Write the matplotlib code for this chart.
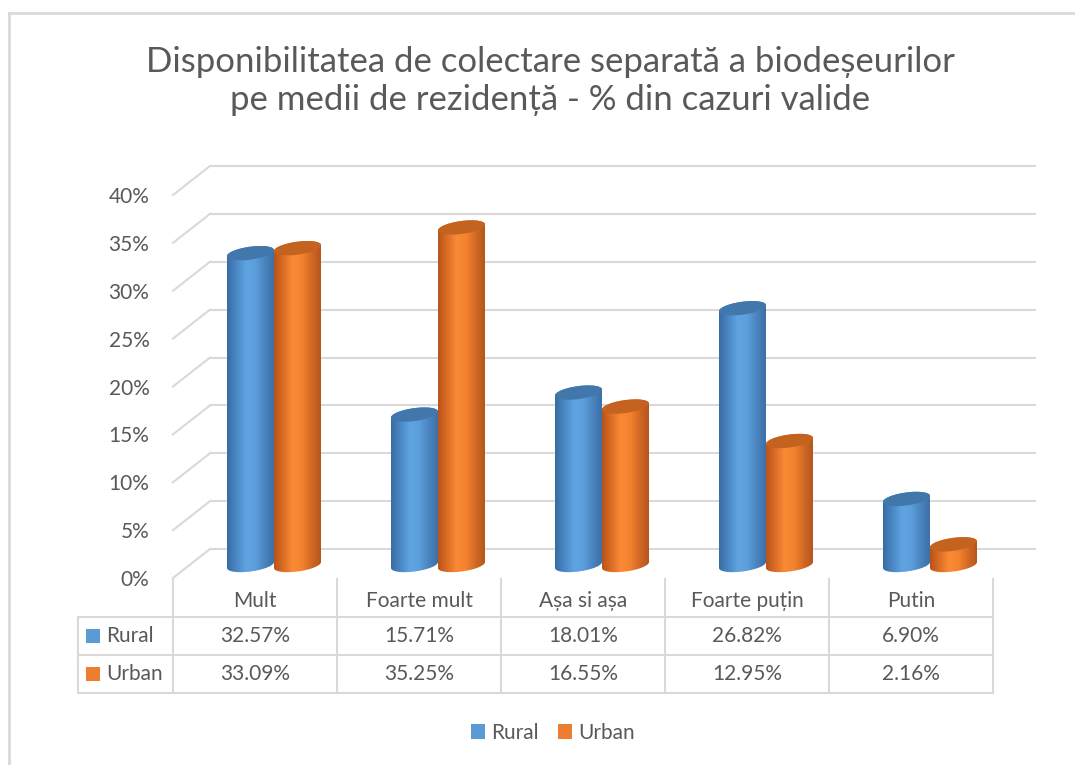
import numpy as np
import matplotlib
matplotlib.use("Agg")
import matplotlib.pyplot as plt
import matplotlib.transforms as mtransforms
from matplotlib.colors import LinearSegmentedColormap
from matplotlib.patches import PathPatch, Patch, Rectangle
from matplotlib.path import Path
from matplotlib.lines import Line2D

plt.rcParams['font.family'] = ['Lato', 'DejaVu Sans']

title = "Disponibilitatea de colectare separată a biodeșeurilor\npe medii de rezidență - % din cazuri valide"
categories = ["Mult", "Foarte mult", "Așa si așa", "Foarte puțin", "Putin"]
series = ["Rural", "Urban"]
rural = [32.57, 15.71, 18.01, 26.82, 6.90]
urban = [33.09, 35.25, 16.55, 12.95, 2.16]
yticks = [0, 5, 10, 15, 20, 25, 30, 35, 40]

TXT = "#595959"
GRID = "#d9d9d9"
body_stops = {
    "Rural": ["#3a6ca2", "#4a87c6", "#5fa4e1", "#5c9fdc", "#4b85c0", "#3d70a6"],
    "Urban": ["#b8531a", "#dc6d26", "#fb8a37", "#f4832f", "#d26924", "#b5551c"],
}
top_col = {"Rural": "#4277ab", "Urban": "#c4621f"}
legend_col = {"Rural": "#5b9bd5", "Urban": "#ed7d31"}

W, H = 1075, 765
fig = plt.figure(figsize=(W / 100, H / 100), dpi=100)

# front plane: category columns 173..993 px, 0% at y=578, 9.575 px per %
px_cat = 164.0
px_pct = 9.575
ymax = 45
ax = fig.add_axes([173 / W, (H - 578) / H, 820 / W, ymax * px_pct / H])
ax.set_xlim(-0.5, 4.5)
ax.set_ylim(0, ymax)
for s in ax.spines.values():
    s.set_visible(False)
ax.set_xticks([])
ax.set_yticks(yticks)
ax.set_yticklabels([f"{t}%" for t in yticks], color=TXT, fontsize=15)
ax.tick_params(axis="y", length=0, pad=17)

# back wall gridlines (perspective shift) and side diagonals
dxb, dyb = 37 / px_cat, 29 / px_pct
for t in yticks:
    ax.plot([-0.5, -0.5 + dxb], [t, t + dyb], color=GRID, lw=1.5, zorder=1, clip_on=False)
    ax.plot([-0.5 + dxb, 4.53 + dxb], [t + dyb, t + dyb], color=GRID, lw=1.5, zorder=1, clip_on=False)

# cylinders sit between front and back plane
dxc, dyc = 19 / px_cat, 13 / px_pct
cw = 47 / px_cat
eb = 6.5 / px_pct
shear = 3.0 / px_pct / (cw / 2)


def cylinder(xc, v, name):
    a = cw / 2
    t1 = np.linspace(np.pi, 2 * np.pi, 60)
    t2 = np.linspace(0, np.pi, 60)
    bx = xc + a * np.cos(t1)
    by = dyc + eb * np.sin(t1) + shear * a * np.cos(t1)
    tx = xc + a * np.cos(t2)
    ty = dyc + v + eb * np.sin(t2) + shear * a * np.cos(t2)
    verts = np.vstack([np.column_stack([bx, by]), np.column_stack([tx, ty]), [[bx[0], by[0]]]])
    codes = [Path.MOVETO] + [Path.LINETO] * (len(verts) - 2) + [Path.CLOSEPOLY]
    body = PathPatch(Path(verts, codes), facecolor="none", edgecolor="none")
    ax.add_patch(body)
    cmap = LinearSegmentedColormap.from_list(name, body_stops[name])
    grad = np.linspace(0, 1, 200).reshape(1, -1)
    im = ax.imshow(grad, cmap=cmap, aspect="auto", interpolation="bilinear",
                   extent=[xc - a, xc + a, dyc - 2 * eb, dyc + v + 2 * eb], zorder=3)
    im.set_clip_path(body)
    tt = np.linspace(0, 2 * np.pi, 120)
    ex = xc + a * np.cos(tt)
    ey = dyc + v + eb * np.sin(tt) + shear * a * np.cos(tt)
    ax.fill(ex, ey, color=top_col[name], lw=0, zorder=4)


for i in range(len(categories)):
    cylinder(i + dxc - cw / 2, rural[i], "Rural")
    cylinder(i + dxc + cw / 2, urban[i], "Urban")

ax.set_xlim(-0.5, 4.5)
ax.set_ylim(0, ymax)

# data table below the plot
tb = mtransforms.blended_transform_factory(ax.transData, fig.transFigure)
fy = lambda py: (H - py) / H
x_left = -0.5 - (173 - 78) / px_cat
for k in range(len(categories) + 1):
    ax.add_line(Line2D([k - 0.5, k - 0.5], [fy(579), fy(693)], color=GRID, lw=1.5,
                       transform=tb, clip_on=False))
ax.add_line(Line2D([x_left, x_left], [fy(617), fy(693)], color=GRID, lw=1.5, transform=tb, clip_on=False))
for py in [617, 655, 693]:
    ax.add_line(Line2D([x_left, 4.5], [fy(py), fy(py)], color=GRID, lw=1.5, transform=tb, clip_on=False))

for i, c in enumerate(categories):
    ax.text(i, fy(601), c, transform=tb, ha="center", va="center", color=TXT, fontsize=15)
    ax.text(i, fy(636), f"{rural[i]:.2f}%", transform=tb, ha="center", va="center", color=TXT, fontsize=15)
    ax.text(i, fy(674), f"{urban[i]:.2f}%", transform=tb, ha="center", va="center", color=TXT, fontsize=15)

for name, py in zip(series, [636, 674]):
    fig.patches.append(Rectangle((86 / W, fy(py + 7)), 14 / W, 14 / H, transform=fig.transFigure,
                                 facecolor=legend_col[name], edgecolor="none"))
    fig.text(106 / W, fy(py), name, ha="left", va="center", color=TXT, fontsize=15)

handles = [Patch(facecolor=legend_col[s], edgecolor="none", label=s) for s in series]
fig.legend(handles=handles, loc="center", bbox_to_anchor=(553 / W, fy(733)), ncol=2, frameon=False,
           fontsize=15, handlelength=0.7, handleheight=0.7, handletextpad=0.3, columnspacing=0.9,
           labelcolor=TXT)

fig.text(550 / W, fy(81), title, ha="center", va="center", color=TXT, fontsize=25, linespacing=1.2)

# chart area border
fig.add_artist(Line2D([9 / W, 1], [fy(13), fy(13)], color=GRID, lw=2, transform=fig.transFigure))
fig.add_artist(Line2D([9 / W, 9 / W], [fy(13), 0], color=GRID, lw=2, transform=fig.transFigure))

fig.savefig("out.png", dpi=100, facecolor="white")
